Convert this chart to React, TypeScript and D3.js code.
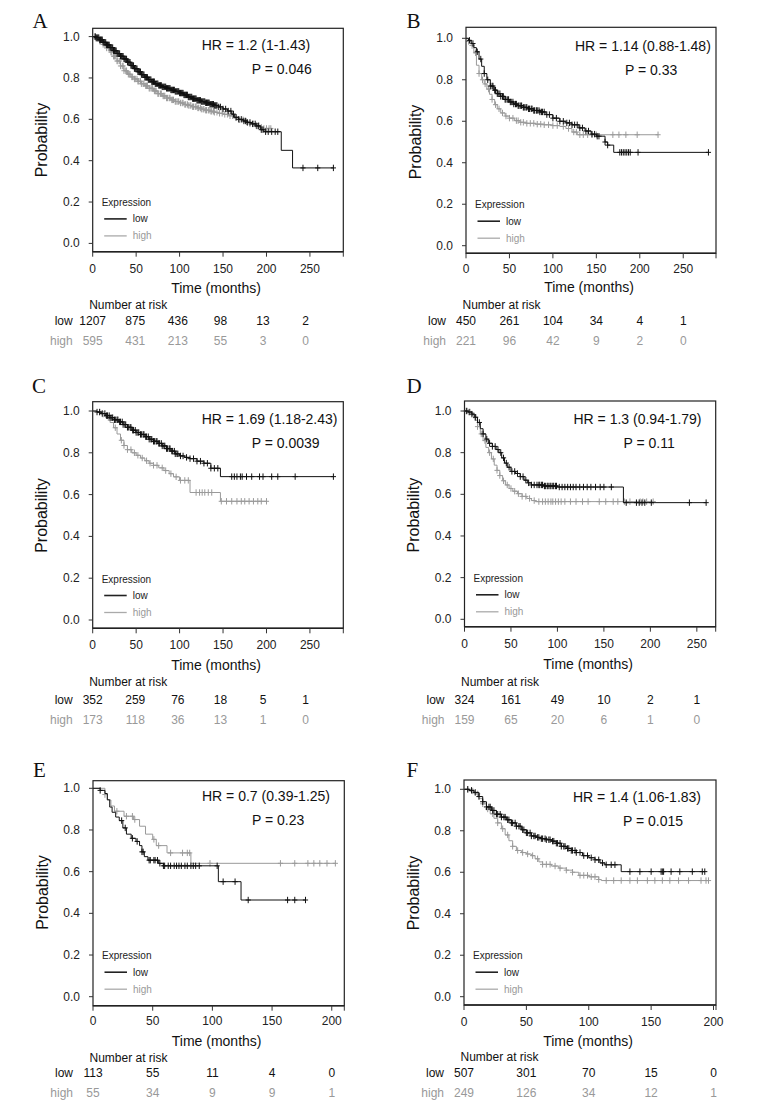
import React from 'react';
import * as d3 from 'd3';

type Pt = [number, number];

// ---------- shared ticks ----------
const TIMES_250 = [0, 50, 100, 150, 200, 250];
const TIMES_200 = [0, 50, 100, 150, 200];
const PROB_TICKS = [0, 0.2, 0.4, 0.6, 0.8, 1.0];

// ---------- Panel A ----------
const A_lowSteps: Pt[] = [[0,1],[4,0.995],[8,0.985],[12,0.972],[16,0.96],[20,0.947],[24,0.932],[28,0.918],[32,0.905],[36,0.892],[40,0.876],[44,0.86],[48,0.845],[52,0.83],[56,0.816],[60,0.803],[64,0.792],[68,0.782],[72,0.772],[76,0.764],[80,0.757],[85,0.75],[90,0.742],[95,0.735],[100,0.727],[105,0.718],[110,0.708],[115,0.7],[120,0.692],[125,0.686],[130,0.68],[135,0.673],[140,0.667],[145,0.66],[150,0.65],[155,0.64],[160,0.625],[163,0.61],[168,0.6],[173,0.592],[178,0.585],[183,0.578],[188,0.568],[193,0.55],[197,0.54],[217,0.45],[230,0.365]];
const A_lowCensor = [3,4,5,6,7,8,9,10,11,12,13,14,15,16,17,18,19,20,21,22,23,24,25,26,27,28,29,30,31,32,33,34,35,36,37,38,39,40,41,42,43,44,45,46,47,48,49,50,51,52,53,54,55,56,57,58,59,60,61,62,63,64,65,66,67,68,69,70,71,72,73,74,75,76,77,78,79,80,81,82,83,84,85,86,87,88,89,90,91,92,93,94,95,96,97,98,99,100,101,102,103,104,105,106,107,108,109,110,111,112,113,114,115,116,117,118,119,120,121,122,123,124,125,126,127,128,129,130,131,132,133,134,135,136,137,138,139,140,141,142,143,145,147,150,153,156,159,162,165,168,171,174,176,178,181,184,187,189,191,194,196,199,202,206,210,213,242,259,277];
const A_highSteps: Pt[] = [[0,1],[4,0.99],[8,0.978],[12,0.962],[16,0.945],[20,0.925],[24,0.905],[28,0.882],[32,0.858],[36,0.835],[40,0.818],[44,0.805],[48,0.795],[52,0.784],[56,0.772],[60,0.762],[65,0.75],[70,0.737],[75,0.724],[80,0.713],[85,0.703],[90,0.694],[95,0.686],[100,0.679],[105,0.672],[110,0.667],[115,0.661],[120,0.655],[125,0.649],[130,0.644],[135,0.639],[140,0.634],[145,0.629],[150,0.624],[156,0.617],[162,0.607],[168,0.598],[174,0.588],[180,0.578],[186,0.57],[192,0.562],[196,0.556]];
const A_highCensor = [2,3,4,5,6,8,9,11,12,14,15,16,18,19,21,22,24,25,26,28,29,31,32,34,35,36,38,39,41,42,43,45,46,48,49,51,52,53,55,56,58,59,61,62,63,65,66,68,69,71,72,73,75,76,78,79,81,82,83,85,86,88,89,91,92,93,95,96,98,99,101,103,104,106,107,109,110,112,113,115,116,118,119,121,122,124,125,127,128,130,131,133,134,136,137,139,140,143,146,149,152,155,158,161,165,169,173,177,181,185,188,191,194,197,200,203,205];
const A_riskLow = [1207, 875, 436, 98, 13, 2];
const A_riskHigh = [595, 431, 213, 55, 3, 0];
const A_stats = ['HR = 1.2 (1-1.43)', 'P = 0.046'];

// ---------- Panel B ----------
const B_lowSteps: Pt[] = [[0,1],[3,0.99],[6,0.975],[9,0.955],[12,0.935],[15,0.9],[18,0.865],[21,0.83],[24,0.8],[28,0.77],[32,0.75],[36,0.733],[40,0.72],[45,0.705],[50,0.693],[55,0.683],[60,0.675],[66,0.667],[72,0.66],[78,0.652],[85,0.645],[92,0.632],[100,0.615],[108,0.6],[115,0.592],[122,0.583],[130,0.568],[137,0.553],[144,0.538],[150,0.528],[160,0.5],[163,0.485],[170,0.45]];
const B_lowCensor = [4,8,13,17,21,25,28,30,31,33,34,36,37,39,40,42,43,45,46,48,49,51,52,54,55,57,58,60,61,63,64,66,67,69,70,72,73,75,76,78,79,81,82,84,85,87,88,90,93,96,100,104,108,112,116,119,122,125,128,131,134,138,141,145,148,151,153,160,163,177,179,181,183,185,187,189,198,279];
const B_highSteps: Pt[] = [[0,1],[3,0.985],[6,0.965],[9,0.93],[12,0.87],[15,0.83],[18,0.8],[21,0.78],[24,0.755],[27,0.73],[30,0.705],[33,0.68],[36,0.66],[40,0.64],[45,0.625],[50,0.615],[56,0.603],[62,0.595],[70,0.59],[80,0.586],[90,0.583],[100,0.579],[108,0.575],[115,0.565],[122,0.548],[128,0.535]];
const B_highCensor = [3,7,11,15,19,22,26,30,34,38,42,46,50,54,58,60,63,66,70,74,78,82,86,90,95,100,105,112,118,124,127,131,135,140,145,150,169,176,184,197,221];
const B_riskLow = [450, 261, 104, 34, 4, 1];
const B_riskHigh = [221, 96, 42, 9, 2, 0];
const B_stats = ['HR = 1.14 (0.88-1.48)', 'P = 0.33'];

// ---------- Panel C ----------
const C_lowSteps: Pt[] = [[0,1],[5,0.995],[10,0.988],[15,0.978],[20,0.968],[25,0.958],[30,0.948],[35,0.935],[40,0.922],[45,0.908],[50,0.897],[55,0.888],[60,0.877],[65,0.865],[70,0.855],[75,0.845],[80,0.833],[85,0.82],[90,0.808],[95,0.795],[100,0.785],[106,0.778],[112,0.772],[120,0.76],[128,0.75],[136,0.726],[147,0.686]];
const C_lowCensor = [5,8,11,14,16,17,19,20,22,23,25,26,28,29,31,32,34,35,37,38,40,41,43,44,46,47,49,50,52,53,55,56,58,59,61,62,64,65,67,68,70,71,73,74,76,77,79,80,82,83,85,86,88,89,91,92,94,95,97,98,101,104,108,112,116,120,124,128,132,136,140,144,160,163,166,170,172,177,183,192,196,206,213,233,277];
const C_highSteps: Pt[] = [[0,1],[5,0.995],[10,0.985],[15,0.968],[20,0.945],[24,0.92],[28,0.89],[32,0.86],[36,0.835],[40,0.815],[45,0.8],[50,0.788],[55,0.775],[60,0.762],[65,0.75],[70,0.74],[76,0.728],[82,0.715],[88,0.7],[93,0.685],[100,0.668],[112,0.61],[147,0.568]];
const C_highCensor = [8,12,18,26,33,36,40,44,48,52,57,62,66,70,74,80,84,90,96,101,106,110,119,123,126,129,133,137,148,154,160,166,171,175,180,185,190,194,200];
const C_riskLow = [352, 259, 76, 18, 5, 1];
const C_riskHigh = [173, 118, 36, 13, 1, 0];
const C_stats = ['HR = 1.69 (1.18-2.43)', 'P = 0.0039'];

// ---------- Panel D ----------
const D_lowSteps: Pt[] = [[0,1],[4,0.995],[8,0.985],[11,0.97],[14,0.945],[17,0.915],[20,0.89],[23,0.865],[26,0.845],[30,0.83],[34,0.815],[37,0.8],[40,0.775],[43,0.75],[46,0.73],[50,0.71],[55,0.7],[60,0.685],[64,0.668],[68,0.655],[72,0.645],[85,0.64],[100,0.635],[171,0.56]];
const D_lowCensor = [2,5,8,12,16,20,24,27,30,33,36,39,42,45,48,51,54,57,60,63,66,69,72,75,78,80,81,83,84,86,87,89,90,92,93,95,96,98,99,102,105,108,111,114,117,120,124,128,132,136,141,146,150,158,174,185,188,191,194,201,242,260];
const D_highSteps: Pt[] = [[0,1],[4,0.995],[8,0.98],[11,0.955],[14,0.925],[17,0.89],[20,0.858],[23,0.825],[26,0.8],[29,0.77],[32,0.74],[35,0.715],[38,0.69],[41,0.665],[44,0.645],[48,0.628],[52,0.615],[57,0.603],[62,0.59],[67,0.58],[72,0.57],[76,0.565]];
const D_highCensor = [3,6,10,14,18,22,27,31,35,38,42,46,50,54,58,62,66,70,75,80,84,87,90,93,95,98,101,104,108,114,120,127,133,145,152,160,165,172,178,189,192,196,203];
const D_riskLow = [324, 161, 49, 10, 2, 1];
const D_riskHigh = [159, 65, 20, 6, 1, 0];
const D_stats = ['HR = 1.3 (0.94-1.79)', 'P = 0.11'];

// ---------- Panel E ----------
const E_lowSteps: Pt[] = [[0,1],[6,0.99],[10,0.975],[12,0.945],[14,0.91],[16,0.885],[19,0.862],[22,0.845],[25,0.81],[28,0.78],[32,0.76],[36,0.745],[39,0.725],[41,0.695],[43,0.672],[46,0.655],[55,0.64],[59,0.628],[105,0.552],[124,0.464]];
const E_lowCensor = [6,24,27,33,37,41,42,47,48,51,52,54,56,59,60,63,65,68,70,72,74,77,79,82,84,86,89,104,109,119,130,163,169,178];
const E_highSteps: Pt[] = [[0,1],[10,0.97],[12,0.944],[15,0.915],[18,0.89],[26,0.866],[34,0.85],[39,0.818],[44,0.78],[50,0.755],[53,0.725],[62,0.69],[82,0.64]];
const E_highCensor = [10,20,28,33,35,51,55,65,75,79,81,98,157,169,180,185,190,196,203];
const E_riskLow = [113, 55, 11, 4, 0];
const E_riskHigh = [55, 34, 9, 9, 1];
const E_stats = ['HR = 0.7 (0.39-1.25)', 'P = 0.23'];

// ---------- Panel F ----------
const F_lowSteps: Pt[] = [[0,1],[4,0.995],[8,0.985],[12,0.965],[15,0.94],[18,0.915],[22,0.898],[26,0.88],[30,0.866],[34,0.853],[38,0.838],[42,0.822],[46,0.805],[50,0.79],[54,0.775],[58,0.768],[62,0.762],[66,0.757],[70,0.75],[74,0.74],[78,0.725],[82,0.715],[86,0.705],[90,0.695],[95,0.68],[100,0.67],[105,0.66],[109,0.645],[113,0.636],[126,0.603]];
const F_lowCensor = [3,6,9,12,15,18,20,21,23,24,26,27,29,30,32,33,35,36,38,39,41,42,44,45,47,48,50,51,53,54,56,57,59,60,62,63,65,66,68,69,71,72,74,75,77,78,80,81,83,84,86,87,89,90,93,96,99,102,105,108,111,114,118,121,133,141,150,158,159,160,166,173,183,191,193];
const F_highSteps: Pt[] = [[0,1],[4,0.992],[8,0.978],[12,0.955],[15,0.93],[18,0.905],[21,0.882],[24,0.86],[27,0.838],[30,0.81],[33,0.78],[36,0.752],[39,0.725],[42,0.705],[46,0.695],[50,0.688],[54,0.68],[57,0.665],[60,0.65],[63,0.638],[70,0.63],[76,0.62],[82,0.61],[87,0.6],[92,0.585],[100,0.578],[108,0.565],[110,0.56]];
const F_highCensor = [3,7,11,15,19,23,27,31,35,39,43,47,51,55,59,63,66,69,73,77,82,87,93,96,99,102,105,108,114,120,126,133,139,147,153,159,165,172,180,190,194,196];
const F_riskLow = [507, 301, 70, 15, 0];
const F_riskHigh = [249, 126, 34, 12, 1];
const F_stats = ['HR = 1.4 (1.06-1.83)', 'P = 0.015'];

// ---------- layout (positions only) ----------
interface Layout {
  letter: string; lx: number; ly: number;
  fx0: number; fy0: number; fx1: number; fy1: number;
  yZero: number; yOne: number; xmax: number; tableScale: number;
  tickY: number; timeY: number; numY: number; lowY: number; highY: number;
}

interface PanelData {
  lowSteps: Pt[]; lowCensor: number[]; highSteps: Pt[]; highCensor: number[];
  riskTimes: number[]; riskLow: number[]; riskHigh: number[]; stats: string[];
}

const panels: { layout: Layout; data: PanelData }[] = [
  {
    layout: { letter: 'A', lx: 32.5, ly: 28, fx0: 92.7, fy0: 28.3, fx1: 343.3, fy1: 251.7, yZero: 243.4, yOne: 36.6, xmax: 288.4, tableScale: 0.98, tickY: 269, timeY: 287.5, numY: 304.5, lowY: 321, highY: 341 },
    data: { lowSteps: A_lowSteps, lowCensor: A_lowCensor, highSteps: A_highSteps, highCensor: A_highCensor, riskTimes: TIMES_250, riskLow: A_riskLow, riskHigh: A_riskHigh, stats: A_stats },
  },
  {
    layout: { letter: 'B', lx: 406.5, ly: 28, fx0: 466, fy0: 27.3, fx1: 716, fy1: 253.3, yZero: 245.7, yOne: 38.3, xmax: 287.7, tableScale: 1, tickY: 269, timeY: 287, numY: 304.5, lowY: 321, highY: 341 },
    data: { lowSteps: B_lowSteps, lowCensor: B_lowCensor, highSteps: B_highSteps, highCensor: B_highCensor, riskTimes: TIMES_250, riskLow: B_riskLow, riskHigh: B_riskHigh, stats: B_stats },
  },
  {
    layout: { letter: 'C', lx: 32, ly: 393, fx0: 92.7, fy0: 401.7, fx1: 343.3, fy1: 628.3, yZero: 620, yOne: 411, xmax: 288.4, tableScale: 0.98, tickY: 645, timeY: 664.5, numY: 682, lowY: 700, highY: 720 },
    data: { lowSteps: C_lowSteps, lowCensor: C_lowCensor, highSteps: C_highSteps, highCensor: C_highCensor, riskTimes: TIMES_250, riskLow: C_riskLow, riskHigh: C_riskHigh, stats: C_stats },
  },
  {
    layout: { letter: 'D', lx: 406.5, ly: 393, fx0: 464.5, fy0: 401, fx1: 715.7, fy1: 626.7, yZero: 619.3, yOne: 411, xmax: 270.3, tableScale: 1, tickY: 643.5, timeY: 663.5, numY: 682.3, lowY: 699.5, highY: 719.5 },
    data: { lowSteps: D_lowSteps, lowCensor: D_lowCensor, highSteps: D_highSteps, highCensor: D_highCensor, riskTimes: TIMES_250, riskLow: D_riskLow, riskHigh: D_riskHigh, stats: D_stats },
  },
  {
    layout: { letter: 'E', lx: 33, ly: 777, fx0: 93, fy0: 780.7, fx1: 344.3, fy1: 1005.7, yZero: 996.7, yOne: 788.3, xmax: 210.5, tableScale: 1, tickY: 1021, timeY: 1041, numY: 1057.5, lowY: 1072.5, highY: 1093 },
    data: { lowSteps: E_lowSteps, lowCensor: E_lowCensor, highSteps: E_highSteps, highCensor: E_highCensor, riskTimes: TIMES_200, riskLow: E_riskLow, riskHigh: E_riskHigh, stats: E_stats },
  },
  {
    layout: { letter: 'F', lx: 406.5, ly: 777, fx0: 464, fy0: 780, fx1: 716, fy1: 1005, yZero: 996.7, yOne: 789.3, xmax: 202, tableScale: 1, tickY: 1021.5, timeY: 1041, numY: 1057, lowY: 1072.5, highY: 1093 },
    data: { lowSteps: F_lowSteps, lowCensor: F_lowCensor, highSteps: F_highSteps, highCensor: F_highCensor, riskTimes: TIMES_200, riskLow: F_riskLow, riskHigh: F_riskHigh, stats: F_stats },
  },
];

const SANS = '"Liberation Sans", Arial, Helvetica, sans-serif';
const SERIF = '"Liberation Serif", "Times New Roman", serif';
const LOW_COLOR = '#111';
const HIGH_COLOR = '#9a9a9a';

function survivalAt(steps: Pt[], t: number): number {
  let s = 1;
  for (const [ti, si] of steps) {
    if (ti <= t) s = si; else break;
  }
  return s;
}

function Curve({ steps, censor, x, y, color }: { steps: Pt[]; censor: number[]; x: d3.ScaleLinear<number, number>; y: d3.ScaleLinear<number, number>; color: string }) {
  const end = Math.max(steps[steps.length - 1][0], d3.max(censor) ?? 0);
  const pts: Pt[] = [...steps, [end, steps[steps.length - 1][1]]];
  const line = d3.line<Pt>().x(d => x(d[0])).y(d => y(d[1])).curve(d3.curveStepAfter);
  const marks = censor.map(t => {
    const cx = x(t), cy = y(survivalAt(steps, t));
    return `M${cx},${cy - 3.2}V${cy + 3.2}M${cx - 2.6},${cy}H${cx + 2.6}`;
  }).join('');
  return (
    <g>
      <path d={line(pts) ?? ''} fill="none" stroke={color} strokeWidth={1} />
      <path d={marks} fill="none" stroke={color} strokeWidth={1} />
    </g>
  );
}

function Panel({ layout: L, data: D }: { layout: Layout; data: PanelData }) {
  const x = d3.scaleLinear().domain([0, L.xmax]).range([L.fx0, L.fx1]);
  const y = d3.scaleLinear().domain([0, 1]).range([L.yZero, L.yOne]);
  const tx = (t: number) => L.fx0 + (x(t) - L.fx0) * L.tableScale;
  const fmt = d3.format('.1f');
  const xTicks = D.riskTimes;
  return (
    <g>
      <text x={L.lx} y={L.ly} fontFamily={SERIF} fontSize={21} fill="#111">{L.letter}</text>
      <Curve steps={D.highSteps} censor={D.highCensor} x={x} y={y} color={HIGH_COLOR} />
      <Curve steps={D.lowSteps} censor={D.lowCensor} x={x} y={y} color={LOW_COLOR} />
      <rect x={L.fx0} y={L.fy0} width={L.fx1 - L.fx0} height={L.fy1 - L.fy0} fill="none" stroke="#222" strokeWidth={1.2} />
      <line x1={L.fx0} x2={L.fx1} y1={L.fy1} y2={L.fy1} stroke="#222" strokeWidth={1.6} />
      {PROB_TICKS.map(v => (
        <g key={v}>
          <line x1={L.fx0 - 4} x2={L.fx0} y1={y(v)} y2={y(v)} stroke="#333" strokeWidth={1} />
          <text x={L.fx0 - 13} y={y(v)} textAnchor="end" dominantBaseline="central" fontFamily={SANS} fontSize={12} fill="#222">{fmt(v)}</text>
        </g>
      ))}
      <text transform={`translate(${L.fx0 - 51},${(y(0) + y(1)) / 2}) rotate(-90)`} textAnchor="middle" dominantBaseline="central" fontFamily={SANS} fontSize={16} fill="#111">Probability</text>
      {xTicks.map(v => (
        <g key={v}>
          <line x1={x(v)} x2={x(v)} y1={L.fy1} y2={L.fy1 + 5} stroke="#333" strokeWidth={1} />
          <text x={x(v)} y={L.tickY} textAnchor="middle" dominantBaseline="central" fontFamily={SANS} fontSize={12} fill="#222">{v}</text>
        </g>
      ))}
      <line x1={L.fx1} x2={L.fx1} y1={L.fy1} y2={L.fy1 + 5} stroke="#333" strokeWidth={1} />
      <text x={(L.fx0 + L.fx1) / 2 - 2} y={L.timeY} textAnchor="middle" dominantBaseline="central" fontFamily={SANS} fontSize={14} fill="#111">Time (months)</text>
      <text x={L.fx0 + 109} y={L.yOne + 8} dominantBaseline="central" fontFamily={SANS} fontSize={14} fill="#111">{D.stats[0]}</text>
      <text x={L.fx0 + 159} y={L.yOne + 32} dominantBaseline="central" fontFamily={SANS} fontSize={14} fill="#111">{D.stats[1]}</text>
      <text x={L.fx0 + 9} y={L.yZero - 41} dominantBaseline="central" fontFamily={SANS} fontSize={10} fill="#222">Expression</text>
      <line x1={L.fx0 + 11.5} x2={L.fx0 + 34} y1={L.yZero - 24.5} y2={L.yZero - 24.5} stroke="#222" strokeWidth={1.6} />
      <text x={L.fx0 + 40} y={L.yZero - 24.5} dominantBaseline="central" fontFamily={SANS} fontSize={10} fill="#222">low</text>
      <line x1={L.fx0 + 11.5} x2={L.fx0 + 34} y1={L.yZero - 7.5} y2={L.yZero - 7.5} stroke="#aaa" strokeWidth={1.3} />
      <text x={L.fx0 + 40} y={L.yZero - 7.5} dominantBaseline="central" fontFamily={SANS} fontSize={10} fill="#999">high</text>
      <text x={L.fx0 - 3.5} y={L.numY} dominantBaseline="central" fontFamily={SANS} fontSize={12} fill="#111">Number at risk</text>
      <text x={L.fx0 - 20} y={L.lowY} textAnchor="end" dominantBaseline="central" fontFamily={SANS} fontSize={12} fill="#111">low</text>
      <text x={L.fx0 - 20} y={L.highY} textAnchor="end" dominantBaseline="central" fontFamily={SANS} fontSize={12} fill="#999">high</text>
      {D.riskTimes.map((t, i) => (
        <g key={t}>
          <text x={tx(t)} y={L.lowY} textAnchor="middle" dominantBaseline="central" fontFamily={SANS} fontSize={12} fill="#111">{D.riskLow[i]}</text>
          <text x={tx(t)} y={L.highY} textAnchor="middle" dominantBaseline="central" fontFamily={SANS} fontSize={12} fill="#999">{D.riskHigh[i]}</text>
        </g>
      ))}
    </g>
  );
}

export default function App() {
  return (
    <svg width={774} height={1118} viewBox="0 0 774 1118" style={{ position: 'absolute', left: 0, top: 0, background: '#fff' }}>
      <rect x={0} y={0} width={774} height={1118} fill="#fff" />
      {panels.map(p => <Panel key={p.layout.letter} layout={p.layout} data={p.data} />)}
    </svg>
  );
}
